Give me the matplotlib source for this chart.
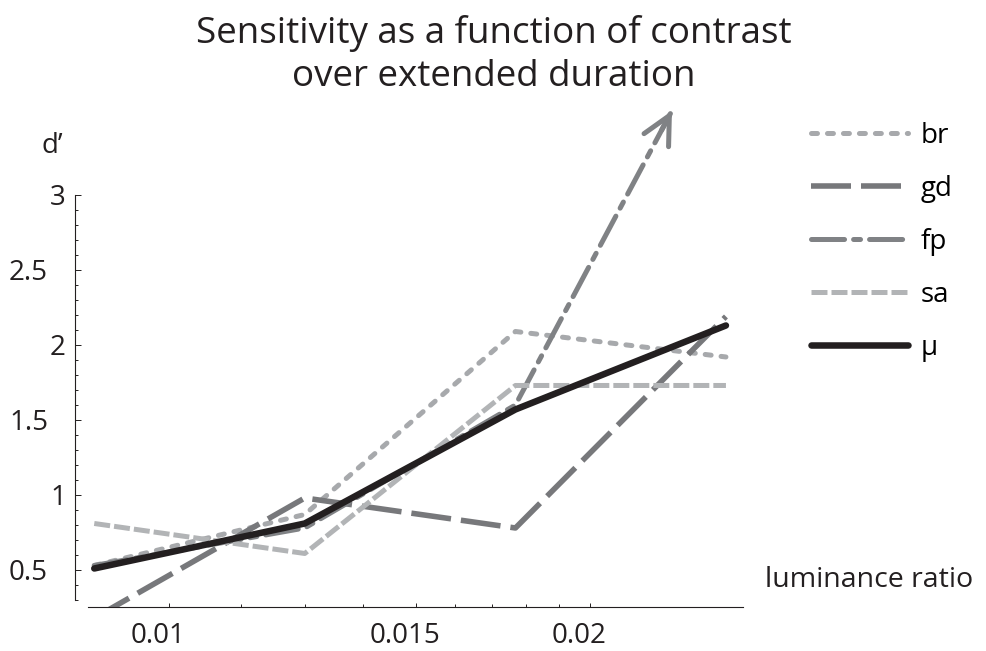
import matplotlib
matplotlib.use('Agg')
import matplotlib.pyplot as plt
import matplotlib.transforms as mtransforms
from matplotlib.ticker import NullFormatter

plt.rcParams['font.family'] = ['Open Sans', 'DejaVu Sans']
plt.rcParams['lines.scale_dashes'] = False

# luminance ratio (x, log axis) and d' per observer
lum = [0.00884, 0.0125, 0.01768, 0.025]
br = [0.53, 0.87, 2.09, 1.92]
gd = [0.18, 0.98, 0.78, 2.19]
sa = [0.81, 0.61, 1.73, 1.73]
mu = [0.51, 0.81, 1.57, 2.13]
# fp leaves the plot range, last point is the arrow tip
fp_lum = [0.00884, 0.0125, 0.01768, 0.0229]
fp = [0.53, 0.78, 1.60, 3.57]

xticks = [0.01, 0.015, 0.02]
xtick_labels = ['0.01', '0.015', '0.02']
xminor = [0.01125, 0.0125, 0.01375, 0.016, 0.017, 0.018, 0.019]
yticks = [0.5, 1, 1.5, 2, 2.5, 3]
ytick_labels = ['0.5', '1', '1.5', '2', '2.5', '3']
yminor = [0.3, 0.4, 0.6, 0.7, 0.8, 0.9, 1.1, 1.2, 1.3, 1.4, 1.6, 1.7, 1.8, 1.9,
          2.1, 2.2, 2.3, 2.4, 2.6, 2.7, 2.8, 2.9]

fig = plt.figure(figsize=(9.87, 6.51), dpi=100)
ax = fig.add_axes([0.0892, 0.0676, 0.6633, 0.6329])

ax.plot(lum, br, color='#a7a9ac', lw=3.6, ls=(0, (4.3, 7.2)),
        dash_capstyle='round', solid_capstyle='round', label='br')
ax.plot(lum, gd, color='#77787b', lw=4.0, ls=(0, (28.8, 7.2)),
        dash_capstyle='butt', label='gd')
ax.plot(fp_lum, fp, color='#808285', lw=3.6, ls=(0, (23.8, 6.5, 5, 6.5)),
        dash_capstyle='round', label='fp', clip_on=False)
ax.plot(lum, sa, color='#b2b4b6', lw=3.6, ls=(0, (11.5, 2.9)),
        dash_capstyle='butt', label='sa')
ax.plot(lum, mu, color='#231f20', lw=4.7, solid_capstyle='round', label='μ')

# open arrow head at the end of fp
t = 0.93
ax.annotate('', xy=(fp_lum[-1], fp[-1]),
            xytext=(fp_lum[-2] * (fp_lum[-1] / fp_lum[-2]) ** t, fp[-2] + (fp[-1] - fp[-2]) * t),
            arrowprops=dict(arrowstyle='->, head_length=2.0, head_width=1.0',
                            color='#808285', lw=3.6, capstyle='round',
                            joinstyle='round', mutation_scale=10,
                            shrinkA=0, shrinkB=1),
            annotation_clip=False)

ax.set_xscale('log')
ax.set_xlim(0.00875, 0.0257)
ax.set_ylim(0.2533, 3)
ax.set_xticks(xticks)
ax.set_xticklabels(xtick_labels)
ax.set_xticks(xminor, minor=True)
ax.xaxis.set_minor_formatter(NullFormatter())
ax.set_yticks(yticks)
ax.set_yticklabels(ytick_labels)
ax.set_yticks(yminor, minor=True)

for s in ['top', 'right']:
    ax.spines[s].set_visible(False)
ax.spines['left'].set_position(('outward', 9.4))
ax.spines['left'].set_bounds(0.3, 3)
for s in ['left', 'bottom']:
    ax.spines[s].set_color('#231f20')
    ax.spines[s].set_linewidth(0.8)

ax.tick_params(axis='both', which='both', direction='in', colors='#231f20',
               width=0.7, labelsize=20)
ax.tick_params(axis='y', which='major', length=4.5, pad=6.5)
ax.tick_params(axis='y', which='minor', length=2.5)
ax.tick_params(axis='x', which='major', length=3.2, pad=11)
ax.tick_params(axis='x', which='minor', length=2)

# label offsets as in the original
for lab in ax.get_yticklabels():
    if '.' in lab.get_text():
        lab.set_transform(lab.get_transform() +
                          mtransforms.ScaledTranslation(-0.18, 0, fig.dpi_scale_trans))
for lab in ax.get_xticklabels():
    lab.set_transform(lab.get_transform() +
                      mtransforms.ScaledTranslation(-0.11, 0, fig.dpi_scale_trans))

fig.text(42 / 987, 1 - 153 / 651, 'd’', fontsize=20, ha='left', va='baseline',
         color='#231f20')
fig.text(765 / 987, 1 - 580 / 651, 'luminance ratio', fontsize=20.5, ha='left',
         va='center', color='#231f20')
fig.text(0.5, 1 - 43 / 651, 'Sensitivity as a function of contrast',
         fontsize=26.5, ha='center', va='baseline', color='#231f20')
fig.text(0.5, 1 - 86 / 651, 'over extended duration',
         fontsize=26.5, ha='center', va='baseline', color='#231f20')

ax.legend(loc='upper left', bbox_to_anchor=(811 / 987, 1 - 122 / 651),
          bbox_transform=fig.transFigure, frameon=False, fontsize=20,
          handlelength=3.5, handletextpad=0.45, labelspacing=0.9,
          borderpad=0, borderaxespad=0)

fig.savefig('out.png', dpi=100)
